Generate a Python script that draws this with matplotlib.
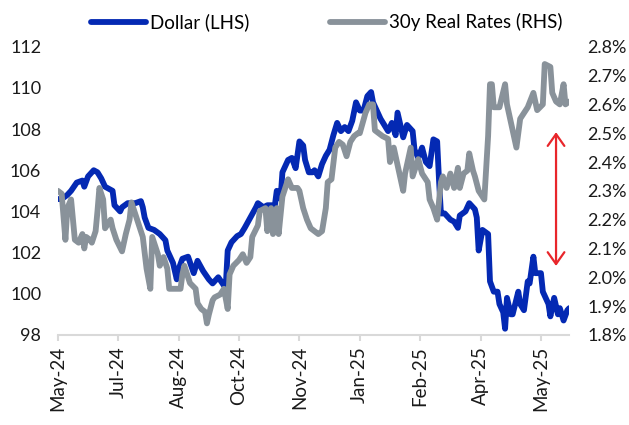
import numpy as np
import matplotlib.pyplot as plt

'''
Dollar index vs 30y real rates (read off the chart, x = trading day from start)
'''
dollar_day = [0, 2, 5, 7, 10, 13, 14, 16, 19, 21, 23, 25, 29, 30, 33, 34, 37, 41, 44, 45,
              46, 48, 51, 54, 57, 58, 61, 63, 64, 66, 69, 72, 74, 77, 80, 82, 85, 88, 89, 90,
              92, 95, 97, 99, 102, 105, 106, 109, 111, 115, 116, 118, 119, 122, 124, 126, 128, 130, 131, 133,
              135, 136, 138, 140, 142, 144, 146, 148, 150, 152, 154, 156, 158, 160, 162, 164, 166, 167, 169, 171,
              175, 177, 179, 180, 183, 185, 188, 189, 191, 193, 195, 197, 199, 201, 202, 203, 205, 208, 210, 212,
              213, 216, 218, 220, 221, 222, 223, 225, 228, 229, 231, 233, 234, 236, 237, 238, 240, 241, 244, 245,
              247, 249, 250, 252, 253, 256, 257, 260, 261, 263, 265, 266, 268, 270, 271]
dollar = [104.6, 104.6, 104.8, 105.0, 105.4, 105.5, 105.2, 105.7, 106.0, 105.9, 105.6, 105.2, 105.0, 104.3, 104.0, 104.2, 104.4, 104.4, 104.5, 104.2,
          103.7, 103.2, 103.1, 102.9, 102.6, 102.1, 101.5, 100.7, 101.2, 101.7, 101.8, 101.0, 101.6, 101.1, 100.7, 100.5, 100.8, 100.4, 100.4, 102.1,
          102.5, 102.8, 102.9, 103.2, 103.7, 104.2, 104.4, 104.2, 104.3, 104.3, 105.0, 104.6, 105.9, 106.5, 106.6, 106.1, 107.4, 107.2, 106.5, 105.9,
          105.9, 106.0, 105.7, 106.3, 106.7, 107.0, 107.7, 108.3, 107.9, 108.1, 107.9, 108.4, 109.3, 108.9, 108.9, 109.6, 109.8, 109.3, 108.9, 108.5,
          107.9, 108.3, 107.7, 108.8, 107.6, 108.2, 107.9, 107.0, 106.6, 107.1, 106.4, 106.2, 107.5, 107.4, 105.5, 103.9, 103.9, 103.6, 103.5, 103.2,
          103.8, 104.0, 104.4, 104.2, 104.1, 103.7, 102.1, 103.1, 102.9, 100.6, 100.1, 100.1, 99.5, 99.1, 98.3, 99.8, 99.0, 99.0, 100.1, 99.5,
          99.2, 100.6, 100.5, 101.8, 101.0, 101.0, 100.1, 99.5, 98.9, 99.8, 99.0, 99.3, 98.7, 99.2, 99.3]

rates_day = [0, 2, 4, 5, 7, 9, 11, 13, 14, 15, 17, 18, 20, 21, 22, 24, 25, 28, 29, 31,
             34, 36, 38, 39, 42, 45, 47, 49, 50, 53, 54, 56, 58, 59, 62, 65, 66, 67, 70, 73,
             74, 76, 78, 79, 80, 82, 83, 86, 88, 90, 91, 93, 96, 98, 100, 102, 103, 106, 107, 110,
             111, 113, 114, 116, 117, 119, 122, 124, 127, 128, 130, 132, 134, 136, 138, 140, 142, 143, 145, 147,
             149, 151, 153, 155, 157, 159, 160, 163, 165, 167, 168, 170, 172, 175, 176, 178, 180, 183, 184, 187,
             188, 191, 193, 196, 197, 199, 201, 203, 204, 206, 208, 210, 212, 213, 215, 217, 218, 220, 221, 223,
             225, 226, 228, 229, 230, 231, 234, 237, 238, 240, 241, 243, 245, 247, 249, 252, 254, 257, 258, 261,
             262, 264, 266, 268, 269, 271]
rates = [2.30, 2.29, 2.13, 2.24, 2.27, 2.13, 2.12, 2.15, 2.10, 2.14, 2.13, 2.12, 2.16, 2.23, 2.31, 2.27, 2.17, 2.20, 2.17, 2.13,
         2.09, 2.15, 2.20, 2.26, 2.20, 2.14, 2.03, 1.96, 2.14, 2.08, 2.04, 2.07, 2.03, 1.96, 1.96, 1.96, 2.01, 2.04, 1.98, 1.96,
         1.91, 1.89, 1.88, 1.84, 1.87, 1.92, 1.93, 1.94, 1.96, 1.89, 2.01, 2.04, 2.06, 2.08, 2.05, 2.07, 2.14, 2.18, 2.23, 2.24,
         2.16, 2.24, 2.15, 2.24, 2.15, 2.28, 2.34, 2.31, 2.31, 2.30, 2.24, 2.20, 2.17, 2.16, 2.15, 2.16, 2.24, 2.33, 2.34, 2.45,
         2.47, 2.46, 2.42, 2.47, 2.49, 2.50, 2.50, 2.57, 2.60, 2.60, 2.51, 2.50, 2.49, 2.48, 2.40, 2.45, 2.39, 2.30, 2.36, 2.45,
         2.35, 2.41, 2.36, 2.33, 2.27, 2.24, 2.20, 2.33, 2.35, 2.31, 2.36, 2.31, 2.38, 2.31, 2.36, 2.37, 2.43, 2.37, 2.35, 2.30,
         2.28, 2.27, 2.49, 2.67, 2.67, 2.59, 2.59, 2.67, 2.60, 2.54, 2.51, 2.45, 2.55, 2.57, 2.59, 2.64, 2.58, 2.60, 2.74, 2.73,
         2.64, 2.61, 2.60, 2.67, 2.60, 2.61]

tick_days = [0, 32, 64, 96, 128, 160, 192, 224, 256]
tick_labels = ['May-24', 'Jul-24', 'Aug-24', 'Oct-24', 'Nov-24', 'Jan-25', 'Feb-25', 'Apr-25', 'May-25']
left_ticks = [98, 100, 102, 104, 106, 108, 110, 112]
right_ticks = [1.8, 1.9, 2.0, 2.1, 2.2, 2.3, 2.4, 2.5, 2.6, 2.7, 2.8]

# gap arrow (x in trading days, y on the left axis)
arrow_day = 264
arrow_top, arrow_bottom = 107.85, 101.35

plt.rcParams['font.family'] = ['Lato', 'DejaVu Sans']
blue = '#0429b3'
grey = '#89929a'
axis_grey = '#d9d9d9'

fig = plt.figure(figsize=(6.29, 4.25), dpi=100)
ax = fig.add_axes([0.092, 0.212, 0.813, 0.678])
ax2 = ax.twinx()

l1, = ax.plot(dollar_day, dollar, color=blue, lw=4.2, solid_joinstyle='round',
              solid_capstyle='round', label='Dollar (LHS)')
l2, = ax2.plot(rates_day, rates, color=grey, lw=4.2, solid_joinstyle='round',
               solid_capstyle='round', label='30y Real Rates (RHS)')

ax.set_xlim(0, 271)
ax.set_ylim(98, 112)
ax2.set_ylim(1.8, 2.8)

ax.set_yticks(left_ticks)
ax.set_yticklabels([str(v) for v in left_ticks])
ax2.set_yticks(right_ticks)
ax2.set_yticklabels(['%.1f%%' % v for v in right_ticks])
ax.set_xticks(tick_days)
ax.set_xticklabels(tick_labels, rotation=90)

for a in (ax, ax2):
    for s in ('top', 'left', 'right'):
        a.spines[s].set_visible(False)
    a.spines['bottom'].set_color(axis_grey)
    a.spines['bottom'].set_linewidth(1.5)
ax2.spines['bottom'].set_visible(False)

ax.tick_params(axis='y', length=0, pad=12, labelsize=13, labelcolor='#1a1a1a')
ax2.tick_params(axis='y', length=0, pad=13, labelsize=13, labelcolor='#1a1a1a')
ax.tick_params(axis='x', length=4, width=1.5, color=axis_grey, pad=4,
               labelsize=13.5, labelcolor='#1a1a1a')

ax.annotate('', xy=(arrow_day, arrow_top), xytext=(arrow_day, arrow_bottom),
            arrowprops=dict(arrowstyle='<->,head_length=0.85,head_width=0.6',
                            color='#e8262b', lw=1.6, shrinkA=0, shrinkB=0,
                            mutation_scale=10))

fig.legend(handles=[l1, l2], loc='upper center', bbox_to_anchor=(0.52, 1.0),
           ncol=2, frameon=False, fontsize=13.5, handlelength=2.9,
           handletextpad=0.25, columnspacing=4.3, borderaxespad=0.3)

fig.savefig('out.png', dpi=100)
